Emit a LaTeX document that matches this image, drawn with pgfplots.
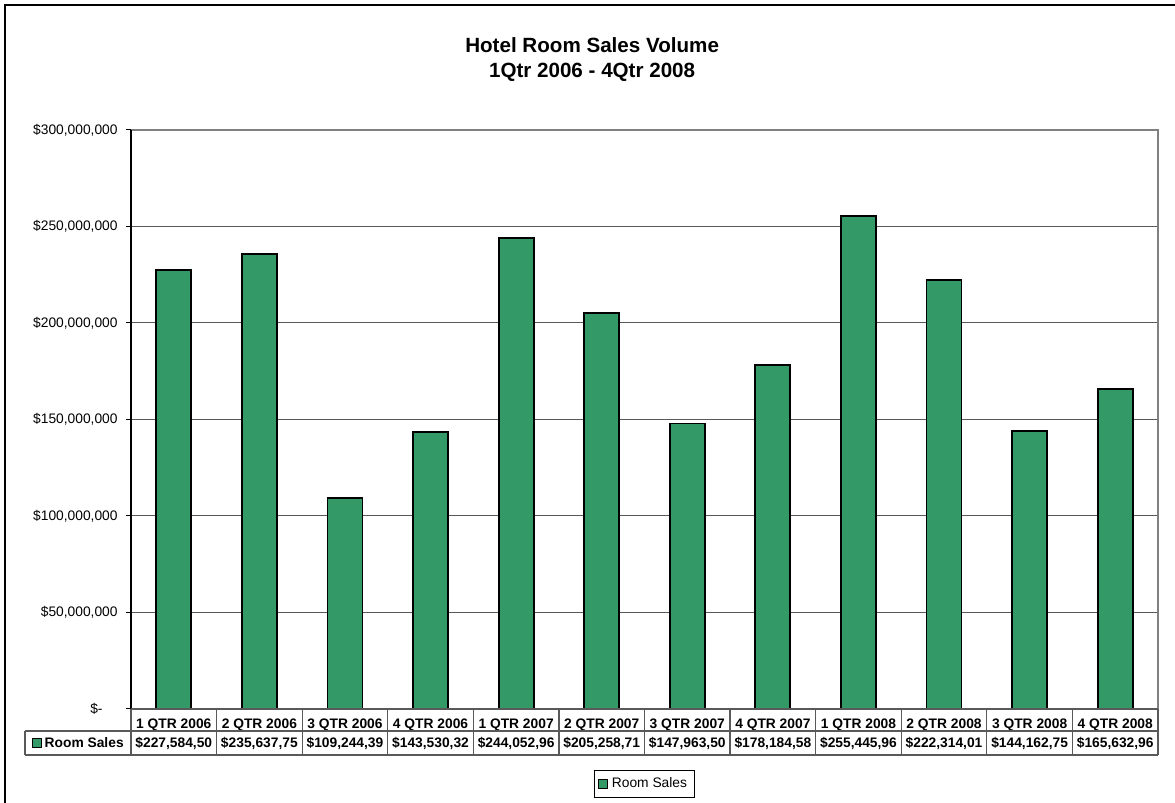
\documentclass[border=0pt]{standalone}
\usepackage{fontspec}
\setmainfont{Liberation Sans}
\usepackage{pgfplots}
\pgfplotsset{compat=1.18}
\definecolor{barcolor}{RGB}{51,153,102}
\newcommand\tf{\fontsize{6.9}{8.3}\selectfont}
\setlength{\fboxsep}{0pt}
\setlength{\fboxrule}{0.5pt}
\tikzset{tbl/.style={draw=black!65, line width=0.6pt}}

\begin{document}
\begin{tikzpicture}
\path[use as bounding box] (-65.5pt,-47pt) rectangle (522pt,354.5pt);
\draw[line width=1pt] (-63pt,-47pt) -- (-63pt,352pt) -- (522pt,352pt);
\begin{axis}[
  scale only axis,
  width=513.5pt, height=289.5pt,
  xmin=-0.5, xmax=11.5, ymin=0, ymax=300000000,
  ybar, bar width=17.5pt,
  axis line style={draw=none},
  clip=false,
  xtick={0,...,11},
  xticklabels={1 QTR 2006,2 QTR 2006,3 QTR 2006,4 QTR 2006,1 QTR 2007,2 QTR 2007,3 QTR 2007,4 QTR 2007,1 QTR 2008,2 QTR 2008,3 QTR 2008,4 QTR 2008},
  xtick style={draw=none},
  xticklabel style={font=\tf\bfseries, anchor=center, yshift=-5.5pt},
  ytick={0,50000000,100000000,150000000,200000000,250000000,300000000},
  yticklabels={{\$-\hspace*{7.5pt}},{\$50,000,000},{\$100,000,000},{\$150,000,000},{\$200,000,000},{\$250,000,000},{\$300,000,000}},
  scaled y ticks=false,
  ytick pos=left, tick align=outside, major tick length=2.5pt,
  ytick style={black, line width=0.5pt},
  yticklabel style={font=\tf, anchor=east, inner sep=0pt, xshift=-4pt},
  ymajorgrids, grid style={black!65, line width=0.5pt},
  title={Hotel Room Sales Volume\\1Qtr 2006 - 4Qtr 2008},
  title style={font=\fontsize{10.3}{12.5}\selectfont\bfseries, align=center,
    at={(axis description cs:0.449,1)}, anchor=center, yshift=29pt},
  legend style={at={(axis description cs:0.5,0)}, anchor=center, yshift=-37.5pt,
    font=\tf, draw=black, line width=0.5pt, inner sep=1.5pt},
  legend image code/.code={\draw[fill=barcolor,draw=black,line width=0.5pt] (0pt,-2.2pt) rectangle (4.5pt,2.3pt);},
]
\addplot[fill=barcolor, draw=black, line width=0.9pt] coordinates {
  (0,227584500) (1,235637750) (2,109244390) (3,143530320)
  (4,244052960) (5,205258710) (6,147963500) (7,178184580)
  (8,255445960) (9,222314010) (10,144162750) (11,165632960)};
\addlegendentry{Room Sales}

% plot area frame
\draw[black!50, line width=0.6pt] (rel axis cs:0,1) -- (rel axis cs:1,1) -- (rel axis cs:1,0);
\draw[black, line width=0.6pt] (rel axis cs:0,0) -- (rel axis cs:0,1);

% data table
\draw[tbl] (rel axis cs:0,0) -- (rel axis cs:1,0);
\draw[tbl] ([xshift=-53pt,yshift=-11pt]rel axis cs:0,0) -- ([yshift=-11pt]rel axis cs:1,0);
\draw[tbl] ([xshift=-53pt,yshift=-23pt]rel axis cs:0,0) -- ([yshift=-23pt]rel axis cs:1,0);
\draw[tbl] ([xshift=-53pt,yshift=-11pt]rel axis cs:0,0) -- ([xshift=-53pt,yshift=-23pt]rel axis cs:0,0);
\pgfplotsinvokeforeach{-0.5,0.5,1.5,2.5,3.5,4.5,5.5,6.5,7.5,8.5,9.5,10.5,11.5}{
  \draw[tbl] (axis cs:#1,0) -- ([yshift=-23pt]axis cs:#1,0);
}
\node[font=\tf\bfseries, anchor=west, inner sep=0pt] at ([xshift=-49.5pt,yshift=-17pt]rel axis cs:0,0)
  {\fcolorbox{black}{barcolor}{\rule{4pt}{0pt}\rule{0pt}{4pt}}\,Room Sales};
\node[font=\tf\bfseries] at ([yshift=-17pt]axis cs:0,0) {\$227,584,50};
\node[font=\tf\bfseries] at ([yshift=-17pt]axis cs:1,0) {\$235,637,75};
\node[font=\tf\bfseries] at ([yshift=-17pt]axis cs:2,0) {\$109,244,39};
\node[font=\tf\bfseries] at ([yshift=-17pt]axis cs:3,0) {\$143,530,32};
\node[font=\tf\bfseries] at ([yshift=-17pt]axis cs:4,0) {\$244,052,96};
\node[font=\tf\bfseries] at ([yshift=-17pt]axis cs:5,0) {\$205,258,71};
\node[font=\tf\bfseries] at ([yshift=-17pt]axis cs:6,0) {\$147,963,50};
\node[font=\tf\bfseries] at ([yshift=-17pt]axis cs:7,0) {\$178,184,58};
\node[font=\tf\bfseries] at ([yshift=-17pt]axis cs:8,0) {\$255,445,96};
\node[font=\tf\bfseries] at ([yshift=-17pt]axis cs:9,0) {\$222,314,01};
\node[font=\tf\bfseries] at ([yshift=-17pt]axis cs:10,0) {\$144,162,75};
\node[font=\tf\bfseries] at ([yshift=-17pt]axis cs:11,0) {\$165,632,96};
\end{axis}
\end{tikzpicture}
\end{document}
